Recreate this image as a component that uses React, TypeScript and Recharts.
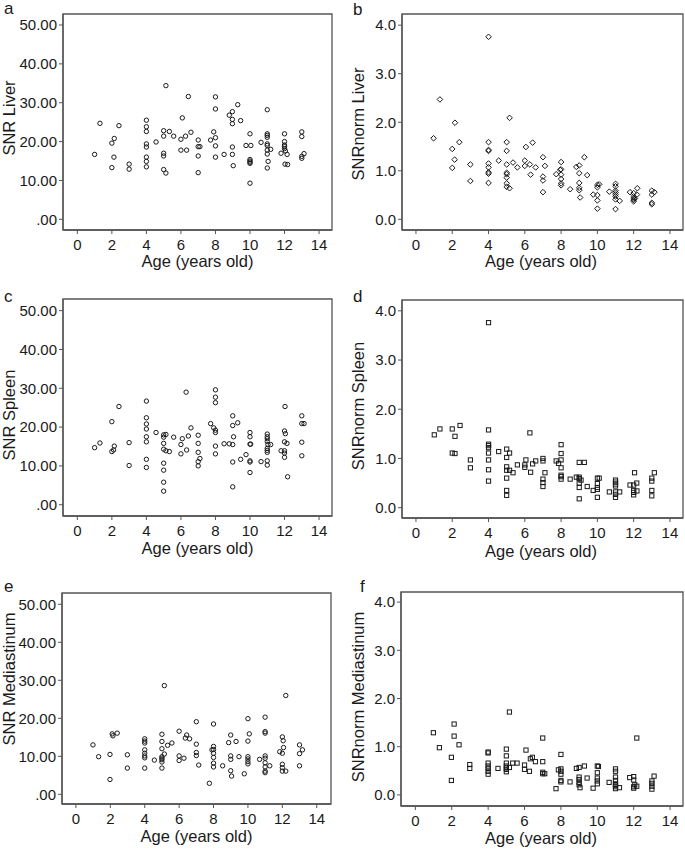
import { ScatterChart, Scatter, XAxis, YAxis, ReferenceArea } from 'recharts'

// tick values
const ageTicks = [0, 2, 4, 6, 8, 10, 12, 14]
const snrTicks = [0, 10, 20, 30, 40, 50]
const normTicks = [0, 1, 2, 3, 4]

// [age, value] pairs
const snrLiver: [number, number][] = [
  [1.0, 16.7], [1.31, 24.7], [2.0, 13.3], [2.0, 19.6], [2.14, 20.8], [2.12, 16.0], [2.41, 24.1], [3.0, 14.2], [3.0, 12.9],
  [4, 25.5], [4, 23.8], [4, 22.6], [4, 19.4], [4, 18.6], [4, 16.0], [4, 14.9], [4, 13.5],
  [4.56, 19.9],
  [5, 22.8], [5, 21.4], [5, 17.0], [5, 16.3], [5, 12.8],
  [5.13, 34.4], [5.13, 11.9], [5.33, 22.6], [5.58, 21.4],
  [6, 20.6], [6, 17.8], [6.08, 26.1], [6.27, 21.4], [6.33, 17.8], [6.43, 31.6], [6.58, 22.4],
  [7, 20.4], [7, 18.7], [7, 16.3], [7, 12.0], [7.1, 18.7],
  [7.72, 20.4], [7.9, 22.5],
  [8, 31.5], [8, 28.4], [8, 21.0], [8, 18.9], [8, 16.0],
  [8.5, 16.7], [8.8, 26.8], [8.98, 27.7], [8.98, 25.7], [8.98, 24.6], [8.98, 18.6], [8.98, 16.7], [9.03, 13.8],
  [9.29, 29.5], [9.46, 25.4], [9.77, 19.0],
  [10, 22.0], [10.05, 19.0], [10, 15.4], [10, 15.0], [10, 14.7], [10, 14.4], [10, 9.3],
  [10.64, 19.8],
  [11, 28.2], [11, 22.0], [11, 21.6], [11, 21.1], [11, 19.4], [11, 19.0], [11, 17.8], [11, 16.8], [11.05, 14.9], [11, 13.2],
  [11.2, 18.0],
  [11.8, 17.0], [12, 22.0], [12, 20.0], [12, 19.1], [12, 18.7], [12, 18.2], [12.05, 17.6], [12.15, 16.7], [12.03, 14.2], [12.18, 14.1],
  [13, 22.5], [13, 21.3], [13, 16.2], [13, 15.7], [13.13, 16.9],
]

const normLiver: [number, number][] = [
  [0.97, 1.67], [1.32, 2.47], [2.0, 1.45], [2.0, 1.06], [2.15, 1.99], [2.13, 1.23], [2.39, 1.59], [3.0, 1.13], [3.0, 0.79],
  [4, 3.76], [4, 1.59], [4, 1.43], [4, 1.41], [4, 1.15], [4, 1.07], [4, 0.97], [4, 0.94], [4, 0.75],
  [4.56, 1.21],
  [5, 1.59], [5, 1.41], [5, 1.13], [5, 0.96], [5, 0.93], [5, 0.86], [5, 0.74], [5, 0.67],
  [5.16, 2.09], [5.16, 0.64], [5.35, 1.17], [5.59, 1.07],
  [6, 1.21], [6, 1.10], [6.06, 1.49], [6.28, 1.13], [6.32, 0.92], [6.43, 1.58], [6.6, 1.07],
  [7, 1.28], [7, 0.88], [7, 0.80], [7, 0.56], [7.11, 1.10],
  [7.73, 0.93],
  [8, 1.18], [8, 1.03], [7.95, 1.02], [8, 0.92], [8, 0.83], [8, 0.74], [8, 0.70],
  [8.5, 0.62], [8.84, 1.08],
  [9, 1.11], [9, 0.95], [9, 0.75], [9, 0.65], [9, 0.60], [9.05, 0.45],
  [9.28, 1.28], [9.44, 0.91], [9.77, 0.51],
  [10, 0.71], [10, 0.66], [10, 0.50], [10, 0.39], [10, 0.22], [10.1, 0.72],
  [10.66, 0.57],
  [11, 0.73], [11, 0.68], [11, 0.59], [11, 0.55], [11, 0.51], [11, 0.47], [11, 0.41], [11, 0.21],
  [11.23, 0.38],
  [11.8, 0.56], [12, 0.54], [12, 0.47], [12, 0.43], [12, 0.40], [12, 0.37], [12.07, 0.43], [12.18, 0.51], [12.2, 0.64],
  [13, 0.59], [13, 0.51], [13, 0.34], [13, 0.31], [13.14, 0.56],
]

const snrSpleen: [number, number][] = [
  [1.0, 14.7], [1.31, 15.9], [2.0, 21.4], [2.0, 13.7], [2.14, 15.1], [2.1, 14.1], [2.41, 25.3], [3.0, 16.0], [3.0, 10.1],
  [4, 26.7], [4, 22.4], [4, 20.8], [4, 19.5], [4, 17.5], [4, 16.2], [4, 11.7], [4, 9.6],
  [4.56, 18.6],
  [5, 18.0], [5, 17.4], [5, 15.8], [5, 14.3], [5, 10.7], [5, 8.9], [5, 5.8], [5, 3.5],
  [5.13, 18.1], [5.13, 13.9], [5.33, 13.7], [5.58, 17.4],
  [6, 15.5], [6, 13.1], [6.08, 17.0], [6.3, 29.0], [6.33, 14.1], [6.43, 17.7], [6.58, 19.8],
  [7, 17.9], [7, 15.8], [7, 13.5], [7, 11.1], [7, 10.0], [7.1, 11.9],
  [7.72, 20.9], [7.9, 19.8],
  [8, 29.6], [8, 27.7], [8, 26.3], [8, 19.2], [8, 18.6], [8, 15.1], [8, 13.1],
  [8.5, 15.7], [8.8, 15.7],
  [9, 22.9], [9, 20.4], [9.05, 17.5], [9, 15.5], [9, 11.0], [9, 4.6],
  [9.29, 21.1], [9.46, 11.7], [9.77, 12.9],
  [10, 18.6], [10, 17.5], [10, 15.6], [10, 11.3], [10, 11.0], [10, 8.3], [10.04, 15.6],
  [10.64, 11.1],
  [11, 18.2], [11, 17.5], [11, 17.0], [11, 16.3], [11, 14.5], [11, 14.0], [11, 13.5], [11, 11.3], [11, 10.2], [11.04, 15.5],
  [11.2, 15.5],
  [12, 19.0], [12.05, 18.3], [12, 16.2], [12, 13.9], [12, 13.3], [12, 12.2], [12.03, 25.3], [11.8, 13.9], [12.14, 15.8], [12.18, 7.2],
  [13, 22.9], [13, 16.1], [13, 12.6], [13.0, 20.9], [13.13, 20.9],
]

const normSpleen: [number, number][] = [
  [1.01, 1.48], [1.32, 1.60], [2.0, 1.60], [2.0, 1.11], [2.15, 1.10], [2.15, 1.45], [2.43, 1.67], [3.0, 0.97], [3.0, 0.81],
  [4, 3.76], [4, 1.58], [4, 1.29], [4, 1.26], [4, 1.22], [4, 1.11], [4, 0.97], [4, 0.77], [4, 0.54],
  [4.56, 1.14],
  [5, 1.19], [5, 1.02], [5, 0.83], [5, 0.76], [5, 0.60], [5, 0.35], [5, 0.25],
  [5.16, 1.11], [5.16, 0.76], [5.35, 0.71], [5.59, 0.87],
  [6, 0.87], [6, 0.82], [6.06, 0.97], [6.28, 1.52], [6.32, 0.72], [6.43, 0.89], [6.6, 0.95],
  [7, 1.0], [7, 0.95], [7, 0.58], [7, 0.51], [7, 0.43], [7.11, 0.71],
  [7.73, 0.95], [7.86, 0.90],
  [8, 1.28], [8, 1.10], [8, 0.97], [8, 0.81], [8, 0.66], [8, 0.63], [8, 0.58],
  [8.5, 0.58], [8.84, 0.62],
  [9, 0.92], [9, 0.62], [9, 0.59], [9, 0.50], [9, 0.41], [9, 0.18], [9.1, 0.56],
  [9.28, 0.92], [9.44, 0.43], [9.77, 0.35],
  [10, 0.60], [10, 0.49], [10, 0.41], [10, 0.37], [10, 0.21], [10.1, 0.60],
  [10.66, 0.32],
  [11, 0.56], [11, 0.52], [11, 0.48], [11, 0.44], [11, 0.32], [11, 0.27], [11, 0.21],
  [11.23, 0.32],
  [11.8, 0.46], [12, 0.46], [12, 0.35], [12, 0.31], [12, 0.26], [12.05, 0.71], [12.17, 0.50], [12.18, 0.34],
  [13, 0.60], [13, 0.54], [13, 0.35], [13, 0.24], [13.14, 0.71],
]

const snrMediastinum: [number, number][] = [
  [0.99, 13.0], [1.32, 9.9], [1.98, 10.5], [1.98, 3.9], [2.11, 15.9], [2.15, 15.4], [2.4, 16.1], [2.99, 10.4], [2.99, 6.9],
  [4, 14.6], [4, 14.0], [4, 13.5], [4, 11.7], [4, 10.8], [4, 10.1], [4, 9.6], [4, 6.9],
  [4.56, 9.0],
  [5, 15.8], [5, 13.9], [5, 12.0], [5, 9.9], [5, 9.5], [5, 9.1], [5, 8.5], [5, 6.9],
  [5.14, 28.6], [5.14, 10.6], [5.33, 12.9], [5.58, 13.5],
  [6, 16.6], [6, 10.1], [6, 8.9], [6.28, 9.5], [6.36, 14.8], [6.44, 15.6], [6.61, 14.6],
  [7, 19.1], [7, 13.2], [7, 11.0], [7, 10.2], [7.14, 7.7],
  [7.76, 2.9], [7.91, 11.7],
  [8, 18.5], [8, 12.6], [8, 11.8], [8, 10.8], [8, 9.7], [8, 8.2], [8, 7.2],
  [8.53, 7.5], [8.88, 13.6],
  [9, 15.6], [9, 10.1], [9, 9.2], [9, 6.2], [9.05, 4.8],
  [9.31, 13.9], [9.48, 9.9], [9.79, 5.4],
  [10, 19.9], [10, 14.0], [10, 9.9], [10, 9.3], [10, 8.6], [10, 8.0], [10.08, 15.9],
  [10.68, 9.2],
  [11, 20.3], [11, 16.5], [11, 16.1], [11, 10.1], [11, 9.5], [11, 8.3], [11, 7.2], [11, 6.1], [11, 5.7],
  [11.27, 7.5],
  [12, 15.1], [12.05, 14.1], [12, 10.8], [12, 7.9], [12, 7.0], [12, 6.1], [11.85, 11.2], [12.07, 12.3], [12.2, 26.0], [12.2, 6.1],
  [13, 13.0], [13, 10.7], [13, 7.5], [13.17, 11.7],
]

const normMediastinum: [number, number][] = [
  [0.99, 1.29], [1.32, 0.98], [1.98, 0.78], [1.98, 0.30], [2.13, 1.47], [2.13, 1.22], [2.4, 1.04], [2.99, 0.63], [2.99, 0.55],
  [4, 0.89], [4, 0.87], [4, 0.66], [4, 0.60], [4, 0.55], [4, 0.49], [4, 0.43],
  [4.54, 0.55],
  [5, 0.95], [5, 0.81], [5, 0.66], [5, 0.60], [5, 0.56], [5, 0.53], [5, 0.48],
  [5.17, 1.72], [5.17, 0.57], [5.35, 0.66], [5.59, 0.66],
  [6, 0.62], [6, 0.53], [6.08, 0.93], [6.27, 0.49], [6.32, 0.75], [6.43, 0.78], [6.6, 0.69],
  [7, 1.18], [7, 0.69], [7, 0.47], [7, 0.44], [7.11, 0.44],
  [7.73, 0.13], [7.86, 0.52],
  [8, 0.84], [8, 0.54], [8, 0.49], [8, 0.43], [8, 0.30], [8, 0.27],
  [8.5, 0.27], [8.85, 0.55],
  [9, 0.57], [9, 0.37], [9, 0.32], [9, 0.26], [9, 0.21], [9.05, 0.15],
  [9.29, 0.60], [9.44, 0.35], [9.77, 0.14],
  [10, 0.60], [10, 0.46], [10, 0.35], [10, 0.29], [10, 0.23], [10.06, 0.59],
  [10.65, 0.26],
  [11, 0.54], [11, 0.49], [11, 0.37], [11, 0.30], [11, 0.23], [11, 0.20], [11, 0.17], [11, 0.13],
  [11.22, 0.15],
  [11.78, 0.36], [12, 0.38], [12, 0.31], [12, 0.17], [12, 0.14], [12.06, 0.21], [12.17, 0.18], [12.17, 1.18],
  [13, 0.29], [13, 0.24], [13, 0.18], [13, 0.12], [13.12, 0.39],
]

const FONT = 'Arial, "Liberation Sans", Helvetica, sans-serif'
const INK = '#1a1a1a'
const FRAME = '#555'

const fmtSnr = (v: number) => (v === 0 ? '.00' : v.toFixed(2))
const fmtNorm = (v: number) => v.toFixed(1)

const circleMark = (p: any) => (
  <circle cx={p.cx} cy={p.cy} r={2.2} fill="none" stroke={INK} strokeWidth={1} />
)
const diamondMark = (p: any) => (
  <path
    d={`M${p.cx},${p.cy - 2.8} L${p.cx + 2.8},${p.cy} L${p.cx},${p.cy + 2.8} L${p.cx - 2.8},${p.cy} Z`}
    fill="none"
    stroke={INK}
    strokeWidth={1}
  />
)
const squareMark = (p: any) => (
  <rect x={p.cx - 2.1} y={p.cy - 2.1} width={4.2} height={4.2} fill="none" stroke={INK} strokeWidth={1} />
)

interface PanelProps {
  letter: string
  yLabel: string
  points: [number, number][]
  yTicks: number[]
  fmt: (v: number) => string
  left: number
  box: { x0: number; x1: number; y0: number; y1: number }
  xDomain: [number, number]
  yDomain: [number, number]
  shape: (p: any) => any
  letterAt: [number, number]
  yLabelAt: [number, number]
  xLabelAt: [number, number]
}

const XH = 45

function Panel(props: PanelProps) {
  const { box, xDomain, yDomain, left } = props
  const yw = box.x0 - left
  const top = Math.max(0, box.y0 - 16)
  const marginTop = box.y0 - top
  const width = box.x1 - left + 2
  const height = box.y1 - top + XH
  const data = props.points.map(([age, value]) => ({ age, value }))

  const texts = () => (
    <g fontFamily={FONT} fill={INK}>
      <text x={props.letterAt[0] - left} y={props.letterAt[1] - top} fontSize={17}>
        {props.letter}
      </text>
      <text
        x={props.yLabelAt[0] - left}
        y={props.yLabelAt[1] - top}
        transform={`rotate(-90 ${props.yLabelAt[0] - left} ${props.yLabelAt[1] - top})`}
        textAnchor="middle"
        dominantBaseline="central"
        fontSize={16.5}
      >
        {props.yLabel}
      </text>
      <text
        x={props.xLabelAt[0] - left}
        y={props.xLabelAt[1] - top}
        textAnchor="middle"
        dominantBaseline="central"
        fontSize={16.5}
      >
        Age (years old)
      </text>
    </g>
  )

  return (
    <div style={{ position: 'absolute', left, top }}>
      <ScatterChart width={width} height={height} margin={{ top: marginTop, right: 2, bottom: 0, left: 0 }}>
        <XAxis
          type="number"
          dataKey="age"
          domain={xDomain}
          ticks={ageTicks}
          interval={0}
          allowDataOverflow
          height={XH}
          tickSize={4}
          tickMargin={5}
          tick={{ fontSize: 15, fill: INK, fontFamily: FONT }}
          axisLine={{ stroke: FRAME, strokeWidth: 1.3 }}
          tickLine={{ stroke: FRAME }}
        />
        <YAxis
          type="number"
          dataKey="value"
          domain={yDomain}
          ticks={props.yTicks}
          interval={0}
          allowDataOverflow
          width={yw}
          tickSize={4}
          tickMargin={2}
          tickFormatter={props.fmt}
          tick={{ fontSize: 15, fill: INK, fontFamily: FONT }}
          axisLine={{ stroke: FRAME, strokeWidth: 1.3 }}
          tickLine={{ stroke: FRAME }}
          label={{ content: texts }}
        />
        <ReferenceArea
          x1={xDomain[0]}
          x2={xDomain[1]}
          y1={yDomain[0]}
          y2={yDomain[1]}
          fill="none"
          stroke={FRAME}
          strokeWidth={1.3}
          ifOverflow="visible"
        />
        <Scatter data={data} shape={props.shape} isAnimationActive={false} />
      </ScatterChart>
    </div>
  )
}

export default function App() {
  return (
    <div
      style={{
        position: 'absolute',
        left: 0,
        top: 0,
        width: 685,
        height: 849,
        overflow: 'hidden',
        background: '#fff',
      }}
    >
      <Panel
        letter="a"
        yLabel="SNR Liver"
        points={snrLiver}
        yTicks={snrTicks}
        fmt={fmtSnr}
        left={0}
        box={{ x0: 63, x1: 332, y0: 14, y1: 230 }}
        xDomain={[-0.83, 14.75]}
        yDomain={[-2.75, 52.83]}
        shape={circleMark}
        letterAt={[4, 14]}
        yLabelAt={[9, 118]}
        xLabelAt={[197.5, 261]}
      />
      <Panel
        letter="b"
        yLabel="SNRnorm Liver"
        points={normLiver}
        yTicks={normTicks}
        fmt={fmtNorm}
        left={340}
        box={{ x0: 402, x1: 683, y0: 14, y1: 230 }}
        xDomain={[-0.77, 14.72]}
        yDomain={[-0.22, 4.23]}
        shape={diamondMark}
        letterAt={[353, 15]}
        yLabelAt={[358, 124]}
        xLabelAt={[541, 261]}
      />
      <Panel
        letter="c"
        yLabel="SNR Spleen"
        points={snrSpleen}
        yTicks={snrTicks}
        fmt={fmtSnr}
        left={0}
        box={{ x0: 63, x1: 332, y0: 299, y1: 516 }}
        xDomain={[-0.83, 14.75]}
        yDomain={[-2.91, 53.0]}
        shape={circleMark}
        letterAt={[4, 302]}
        yLabelAt={[8.5, 415]}
        xLabelAt={[197.5, 548]}
      />
      <Panel
        letter="d"
        yLabel="SNRnorm Spleen"
        points={normSpleen}
        yTicks={normTicks}
        fmt={fmtNorm}
        left={340}
        box={{ x0: 402, x1: 683, y0: 300, y1: 518 }}
        xDomain={[-0.77, 14.72]}
        yDomain={[-0.21, 4.22]}
        shape={squareMark}
        letterAt={[353, 302]}
        yLabelAt={[358, 406]}
        xLabelAt={[541, 551]}
      />
      <Panel
        letter="e"
        yLabel="SNR Mediastinum"
        points={snrMediastinum}
        yTicks={snrTicks}
        fmt={fmtSnr}
        left={0}
        box={{ x0: 62, x1: 331, y0: 593, y1: 804 }}
        xDomain={[-0.81, 14.83]}
        yDomain={[-2.55, 52.97]}
        shape={circleMark}
        letterAt={[4, 592]}
        yLabelAt={[8.5, 679]}
        xLabelAt={[196.5, 836]}
      />
      <Panel
        letter="f"
        yLabel="SNRnorm Mediastinum"
        points={normMediastinum}
        yTicks={normTicks}
        fmt={fmtNorm}
        left={340}
        box={{ x0: 401, x1: 683, y0: 592, y1: 806 }}
        xDomain={[-0.79, 14.71]}
        yDomain={[-0.23, 4.21]}
        shape={squareMark}
        letterAt={[360, 592]}
        yLabelAt={[358, 697]}
        xLabelAt={[541, 838]}
      />
    </div>
  )
}
